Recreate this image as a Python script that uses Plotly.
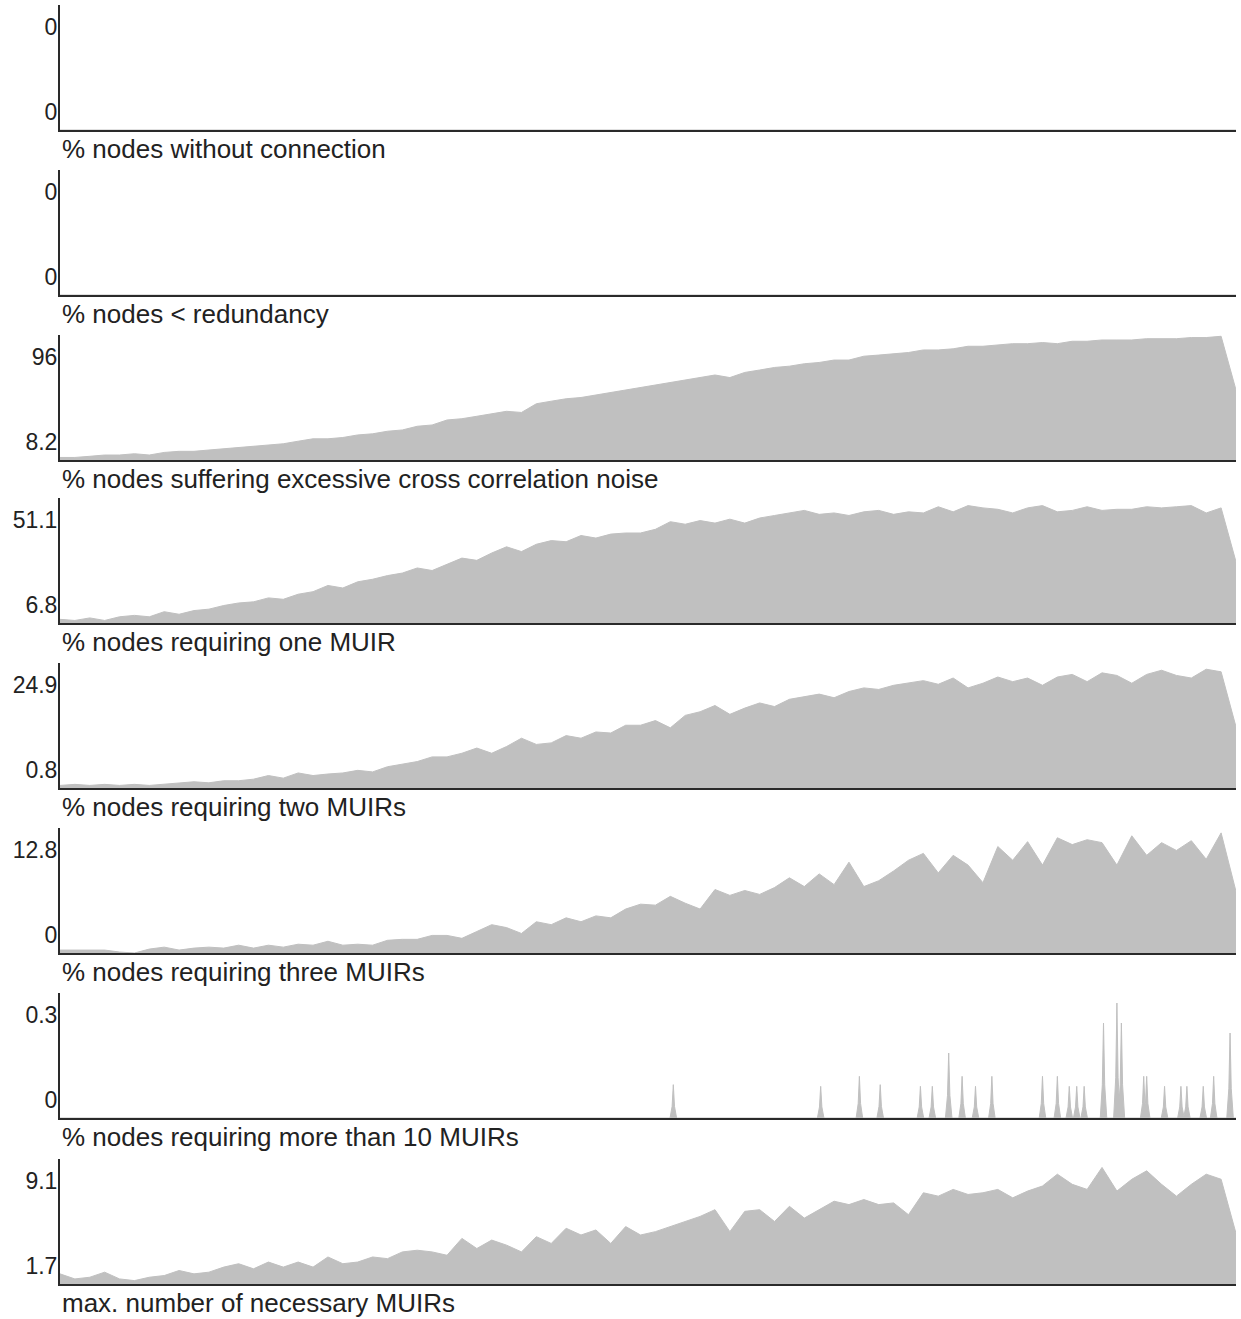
import plotly.graph_objects as go

N = 80
idx = list(range(N))

panel_labels = [
    "% nodes without connection",
    "% nodes &lt; redundancy",
    "% nodes suffering excessive cross correlation noise",
    "% nodes requiring one MUIR",
    "% nodes requiring two MUIRs",
    "% nodes requiring three MUIRs",
    "% nodes requiring more than 10 MUIRs",
    "max. number of necessary MUIRs",
]
top_labels = ["0", "0", "96", "51.1", "24.9", "12.8", "0.3", "9.1"]
bot_labels = ["0", "0", "8.2", "6.8", "0.8", "0", "0", "1.7"]

no_connection = [0, 0, 0, 0, 0, 0, 0, 0, 0, 0, 0, 0, 0, 0, 0, 0, 0, 0, 0, 0,
                 0, 0, 0, 0, 0, 0, 0, 0, 0, 0, 0, 0, 0, 0, 0, 0, 0, 0, 0, 0,
                 0, 0, 0, 0, 0, 0, 0, 0, 0, 0, 0, 0, 0, 0, 0, 0, 0, 0, 0, 0,
                 0, 0, 0, 0, 0, 0, 0, 0, 0, 0, 0, 0, 0, 0, 0, 0, 0, 0, 0, 0]
below_redundancy = [0, 0, 0, 0, 0, 0, 0, 0, 0, 0, 0, 0, 0, 0, 0, 0, 0, 0, 0, 0,
                    0, 0, 0, 0, 0, 0, 0, 0, 0, 0, 0, 0, 0, 0, 0, 0, 0, 0, 0, 0,
                    0, 0, 0, 0, 0, 0, 0, 0, 0, 0, 0, 0, 0, 0, 0, 0, 0, 0, 0, 0,
                    0, 0, 0, 0, 0, 0, 0, 0, 0, 0, 0, 0, 0, 0, 0, 0, 0, 0, 0, 0]
cross_noise = [10.0, 10.0, 10.8, 11.7, 11.7, 12.6, 11.7, 13.5, 14.3, 14.3,
               15.2, 16.1, 17.0, 17.9, 18.7, 19.6, 21.4, 23.1, 23.1, 24.0,
               25.8, 26.6, 28.4, 29.3, 31.9, 32.8, 36.3, 37.2, 38.9, 40.7,
               42.4, 41.6, 47.7, 49.5, 51.2, 52.1, 53.9, 55.6, 57.4, 59.1,
               60.9, 62.6, 64.4, 66.1, 67.9, 66.1, 69.7, 71.4, 73.2, 74.1,
               75.8, 76.7, 78.4, 78.4, 81.1, 81.9, 82.8, 83.7, 85.5, 85.5,
               86.3, 88.1, 88.1, 89.0, 89.9, 89.9, 90.7, 89.9, 91.6, 91.6,
               92.5, 92.5, 92.5, 93.4, 93.4, 93.4, 94.2, 94.2, 95.1, 57.4]
one_muir = [8.1, 7.7, 8.6, 7.7, 9.0, 9.5, 9.0, 10.8, 9.9, 11.2,
            11.7, 13.0, 13.9, 14.3, 15.7, 15.2, 17.0, 17.9, 20.1, 19.2,
            21.4, 22.3, 23.6, 24.5, 26.3, 25.4, 27.6, 29.8, 29.0, 31.6,
            33.8, 32.1, 34.7, 36.0, 35.6, 37.8, 36.9, 38.3, 38.7, 38.7,
            40.0, 42.7, 41.8, 43.1, 42.2, 43.6, 42.2, 44.0, 44.9, 45.8,
            46.7, 45.3, 45.8, 44.9, 46.2, 46.7, 45.3, 46.2, 45.8, 48.0,
            46.2, 48.4, 47.6, 47.1, 45.8, 47.6, 48.4, 46.2, 46.7, 48.0,
            46.7, 47.1, 47.1, 48.0, 47.6, 48.0, 48.4, 45.8, 47.6, 28.5]
two_muirs = [1.3, 1.5, 1.3, 1.5, 1.3, 1.5, 1.3, 1.5, 1.8, 2.0,
             1.8, 2.2, 2.2, 2.5, 3.2, 2.7, 3.7, 3.2, 3.5, 3.7,
             4.2, 3.9, 4.9, 5.4, 5.9, 6.8, 6.8, 7.5, 8.5, 7.5,
             8.8, 10.4, 9.2, 9.5, 10.9, 10.4, 11.6, 11.4, 12.9, 12.9,
             13.8, 12.4, 14.8, 15.5, 16.7, 15.0, 16.2, 17.2, 16.5, 17.9,
             18.4, 18.9, 18.2, 19.4, 20.1, 19.8, 20.6, 21.0, 21.5, 20.8,
             22.0, 20.1, 21.0, 22.2, 21.3, 22.0, 20.6, 22.2, 22.7, 21.3,
             23.0, 22.5, 21.0, 22.7, 23.5, 22.5, 22.0, 23.7, 23.2, 12.6]
three_muirs = [0.3, 0.3, 0.3, 0.3, 0.1, 0.0, 0.4, 0.6, 0.3, 0.5,
               0.6, 0.5, 0.8, 0.5, 0.8, 0.6, 0.9, 0.8, 1.2, 0.8,
               0.9, 0.8, 1.3, 1.4, 1.4, 1.8, 1.8, 1.5, 2.2, 2.9,
               2.6, 2.0, 3.2, 2.9, 3.6, 3.2, 3.8, 3.6, 4.5, 5.0,
               4.9, 5.8, 5.1, 4.5, 6.5, 5.9, 6.4, 6.0, 6.7, 7.7,
               6.8, 8.1, 7.0, 9.3, 6.8, 7.4, 8.4, 9.5, 10.2, 8.2,
               10.0, 9.0, 7.2, 10.9, 9.5, 11.4, 9.0, 11.8, 11.1, 11.6,
               11.3, 9.0, 12.0, 10.0, 11.3, 10.5, 11.5, 9.6, 12.3, 6.3]
max_muirs = [2.3, 2.0, 2.1, 2.4, 2.0, 1.9, 2.1, 2.2, 2.5, 2.3,
             2.4, 2.7, 2.9, 2.6, 3.0, 2.7, 3.0, 2.7, 3.3, 2.9,
             3.0, 3.3, 3.2, 3.6, 3.7, 3.6, 3.4, 4.4, 3.8, 4.3,
             4.0, 3.6, 4.5, 4.1, 5.0, 4.6, 4.9, 4.1, 5.1, 4.6,
             4.8, 5.1, 5.4, 5.7, 6.1, 4.8, 6.0, 6.1, 5.4, 6.3,
             5.6, 6.1, 6.6, 6.4, 6.7, 6.4, 6.5, 5.8, 7.1, 6.9,
             7.3, 7.0, 7.1, 7.3, 6.8, 7.2, 7.5, 8.2, 7.6, 7.3,
             8.6, 7.2, 7.9, 8.4, 7.6, 6.9, 7.6, 8.2, 7.9, 4.7]

# "more than 10 MUIRs": isolated spikes (position on the same index scale, height)
spike_pos = [41.2, 51.1, 53.7, 55.1, 57.8, 58.6, 59.7, 60.6, 61.5, 62.6,
             66.0, 67.0, 67.8, 68.3, 68.8, 70.1, 71.0, 71.3, 72.8, 73.0,
             74.2, 75.3, 75.7, 76.8, 77.5, 78.6]
spike_val = [0.08, 0.076, 0.10, 0.08, 0.076, 0.076, 0.156, 0.10, 0.076, 0.10,
             0.10, 0.10, 0.076, 0.076, 0.076, 0.228, 0.276, 0.228, 0.10, 0.10,
             0.076, 0.076, 0.076, 0.076, 0.10, 0.204]

# build the spike trace geometry
sx, sy = [0], [0]
for p, v in zip(spike_pos, spike_val):
    sx += [p - 0.22, p - 0.08, p, p + 0.08, p + 0.22]
    sy += [0, v * 0.35, v, v * 0.35, 0]
sx.append(N - 1)
sy.append(0)

series = [
    (idx, no_connection),
    (idx, below_redundancy),
    (idx, cross_noise),
    (idx, one_muir),
    (idx, two_muirs),
    (idx, three_muirs),
    (sx, sy),
    (idx, max_muirs),
]

W, H = 1241, 1319
bottoms_px = [130, 295, 460, 623, 788, 953, 1118, 1284]
panel_h = 125
x0, x1 = 60 / W, 1236 / W

GRAY = "#c0c0c0"
AX = "#2a2a2a"
FONT = "Liberation Sans"

fig = go.Figure()
layout = dict(
    width=W, height=H,
    margin=dict(l=0, r=0, t=0, b=0),
    paper_bgcolor="white", plot_bgcolor="white",
    showlegend=False,
)
annotations = []
for k in range(8):
    n = k + 1
    xs, ys = series[k]
    fig.add_trace(go.Scatter(
        x=xs, y=ys, mode="lines", fill="tozeroy",
        fillcolor=GRAY, line=dict(color=GRAY, width=1),
        xaxis=f"x{n}", yaxis=f"y{n}", hoverinfo="skip",
    ))
    lo = float(bot_labels[k])
    hi = float(top_labels[k])
    if hi <= lo:
        hi = lo + 1
    span = hi - lo
    b = bottoms_px[k]
    t = b - panel_h
    ydom = [1 - b / H, 1 - t / H]
    layout[f"xaxis{n}"] = dict(
        domain=[x0, x1], range=[0, N - 1], anchor=f"y{n}",
        showline=True, linecolor=AX, linewidth=2,
        showgrid=False, zeroline=False, showticklabels=False, ticks="",
        fixedrange=True,
    )
    layout[f"yaxis{n}"] = dict(
        domain=ydom, range=[lo, hi], anchor=f"x{n}",
        showline=True, linecolor=AX, linewidth=2,
        showgrid=False, zeroline=False, ticks="",
        tickvals=[lo + 0.144 * span, lo + 0.824 * span],
        ticktext=[bot_labels[k], top_labels[k]],
        tickfont=dict(family=FONT, size=23, color="#222"),
        ticklabelstandoff=-4,
        fixedrange=True,
    )
    annotations.append(dict(
        x=x0, y=ydom[0], xref="paper", yref="paper",
        xanchor="left", yanchor="top", showarrow=False,
        text=panel_labels[k], yshift=-2,
        font=dict(family=FONT, size=26, color="#222"),
    ))
layout["annotations"] = annotations
fig.update_layout(**layout)
fig.write_html("out.html")
